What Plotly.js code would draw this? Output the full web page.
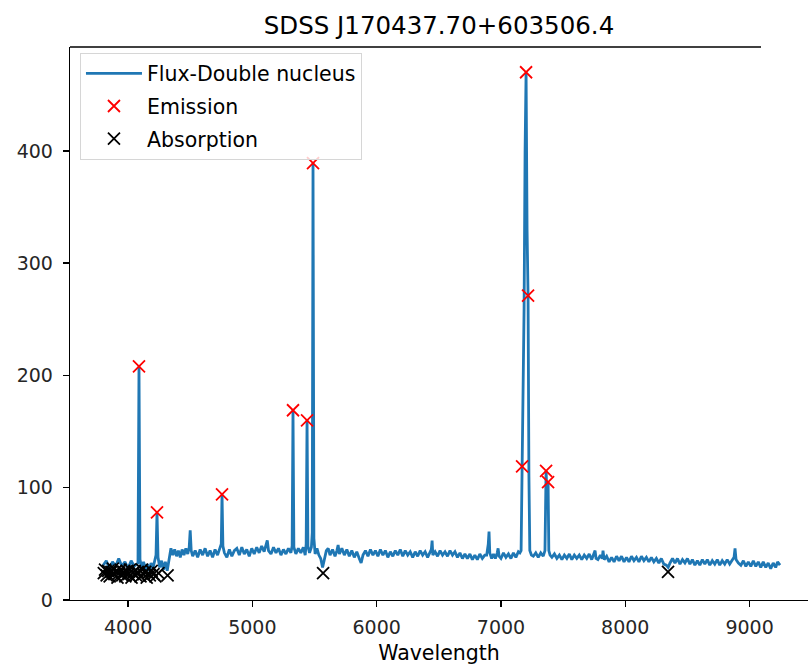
<!DOCTYPE html>
<html>
<head>
<meta charset="utf-8">
<script src="https://cdn.plot.ly/plotly-3.0.1.min.js"></script>
<style>html,body{margin:0;padding:0;background:#fff;}#chart{width:808px;height:665px;}</style>
</head>
<body>
<div id="chart"></div>
<script>
const chartTitle = "SDSS J170437.70+603506.4";
const xLabel = "Wavelength";
const seriesNames = ["Flux-Double nucleus", "Emission", "Absorption"];
const xTicks = [4000, 5000, 6000, 7000, 8000, 9000];
const yTicks = [0, 100, 200, 300, 400];

const wavelength = [
 3800,3825,3850,3875,3900,3925,3950,3975,4000,4025,4050,4075,
 4080,4088,4096,4110,4125,4140,4155,4170,4185,4200,4215,4225,4233,4241,4255,4270,4285,4300,4315,
 4330,4345,4360,4375,4390,4405,4420,4435,4450,4465,4480,4492,4500,4508,4520,4540,4560,4580,4600,
 4620,4640,4660,4680,4700,4720,4740,4750,4756,4763,4775,4795,4815,4835,4855,4875,4895,4915,4935,
 4955,4975,4995,5015,5035,5055,5075,5095,5110,5120,5130,5150,5170,5190,5210,5230,5250,5270,5290,
 5310,5320,5327,5334,5350,5370,5390,5410,5425,5433,5440,5447,5460,5475,5482,5488,5495,5505,5520,
 5535,5550,5565,5580,5595,5610,5625,5645,5665,5680,5690,5700,5720,5740,5760,5780,5800,5820,5840,
 5860,5875,5890,5910,5930,5950,5970,5990,6010,6030,6050,6070,6090,6110,6130,6150,6170,6190,6210,
 6230,6250,6270,6290,6310,6330,6350,6370,6390,6410,6430,6440,6446,6452,6470,6490,6510,6530,6550,
 6570,6590,6610,6630,6650,6670,6690,6710,6730,6750,6770,6790,6810,6830,6850,6870,6885,6898,6904,
 6910,6925,6940,6955,6970,6977,6985,7000,7020,7040,7060,7080,7100,7120,7140,7152,7162,7170,7178,
 7186,7194,7202,7210,7218,7225,7232,7245,7260,7280,7300,7320,7340,7354,7358,7363,7371,7379,7385,
 7395,7410,7430,7450,7470,7490,7510,7530,7550,7570,7590,7610,7630,7650,7670,7690,7710,7730,7745,
 7757,7765,7780,7800,7815,7821,7830,7850,7870,7890,7910,7930,7950,7970,7990,8010,8030,8050,8070,
 8090,8110,8130,8150,8170,8190,8210,8230,8250,8270,8290,8310,8330,8345,8360,8380,8400,8420,8440,
 8460,8480,8500,8520,8540,8560,8580,8600,8620,8640,8660,8680,8700,8720,8740,8760,8780,8800,8820,
 8840,8860,8875,8883,8891,8910,8930,8950,8970,8990,9010,9030,9050,9070,9090,9110,9130,9150,9170,
 9190,9210,9225,9245
];
const flux = [
 31,35,28,34,30,37,30,34,28,35,30,33,
 33,208,36,29,34,27,32,26,33,28,34,40,78,38,29,35,27,34,26,
 37,46,40,45,39,44,38,45,40,46,41,47,62,44,39,44,38,45,40,
 46,39,44,38,45,40,46,50,94,48,42,38,45,39,44,46,40,47,41,
 45,39,46,41,47,42,48,43,49,53,44,41,47,42,46,40,45,41,46,
 42,48,169,47,41,46,42,47,40,50,160,48,42,47,60,389,55,41,46,
 40,37,29,37,44,46,40,45,39,44,49,41,46,40,45,39,44,38,43,
 37,33,40,44,39,45,40,44,39,45,40,44,38,43,39,44,40,45,39,
 44,40,43,38,43,39,44,40,43,38,43,45,53,40,43,39,44,40,43,
 39,44,40,43,38,42,37,41,37,41,36,40,36,41,37,40,40,50,61,
 42,37,41,37,42,46,39,37,42,38,41,37,42,38,43,42,44,119,150,
 260,400,470,330,271,110,44,40,39,42,38,42,39,44,80,115,90,105,44,
 40,38,41,37,40,36,40,37,41,36,40,37,40,36,40,37,41,36,40,
 44,37,36,40,37,44,36,39,34,38,34,39,35,39,34,38,34,39,35,
 38,34,39,35,38,34,38,34,37,33,37,32,31,29,33,37,33,37,32,
 36,33,37,32,36,31,35,31,36,32,36,31,35,32,36,31,35,32,36,
 32,36,38,46,36,33,31,35,30,34,30,35,30,34,29,34,29,33,28,
 33,29,34,31
];

const emissionWl = [4088, 4233, 4756, 5327, 5440, 5488, 7170, 7202, 7218, 7363, 7379];
const emissionFlux = [208, 78, 94, 169, 160, 389, 119, 470, 271, 115, 105];

const absorptionWl = [3805,3815,3828,3840,3852,3866,3878,3890,3903,3915,3928,3940,3953,3965,3978,3990,
 4003,4015,4028,4040,4053,4065,4078,4100,4112,4125,4138,4150,4163,4175,4190,4205,4220,4245,4318,5569,8344];
const absorptionFlux = [24,27,22,26,21,25,28,23,26,20,24,27,22,25,21,26,
 23,27,20,24,26,22,25,21,27,23,25,20,24,22,26,23,21,24,22,24,25];

const font = "DejaVu Sans, Liberation Sans, sans-serif";
const W = 808, H = 665, ml = 70, mr = 0, mt = 47, mb = 65;

const traces = [
  {x: wavelength, y: flux, type: "scatter", mode: "lines", name: seriesNames[0],
   line: {color: "#1f77b4", width: 2.8}, legendgroup: "a"},
  {x: emissionWl, y: emissionFlux, type: "scatter", mode: "markers", name: seriesNames[1],
   marker: {symbol: "x-thin", size: 12, color: "red", line: {color: "red", width: 1.8}}, legendgroup: "b"},
  {x: absorptionWl, y: absorptionFlux, type: "scatter", mode: "markers", name: seriesNames[2],
   marker: {symbol: "x-thin", size: 12, color: "black", line: {color: "black", width: 1.8}}, legendgroup: "c"}
];

const topEnd = (761 - ml) / (W - ml - mr);

const layout = {
  width: W, height: H,
  margin: {l: ml, r: mr, t: mt, b: mb, pad: 0},
  paper_bgcolor: "#fff", plot_bgcolor: "#fff",
  font: {family: font, size: 19, color: "#262626"},
  title: {text: chartTitle, font: {family: font, size: 24.5, color: "#000"},
          x: 0.5, xref: "paper", xanchor: "center", y: (H - 25) / H, yref: "container", yanchor: "middle"},
  showlegend: true,
  legend: {x: 0.0135, y: 0.99, xanchor: "left", yanchor: "top", bgcolor: "rgba(255,255,255,0.8)",
           bordercolor: "#d6d6d6", borderwidth: 1, tracegroupgap: 3,
           font: {family: font, size: 20.5, color: "#000"}, itemwidth: 56},
  xaxis: {range: [3533, 9470], tickvals: xTicks, ticktext: xTicks.map(String), showgrid: false, zeroline: false,
          showline: true, linecolor: "#000", linewidth: 1.3, ticks: "outside", ticklen: 6, tickwidth: 1.3,
          tickcolor: "#000", ticklabelstandoff: 4,
          title: {text: xLabel, font: {family: font, size: 20.5, color: "#000"}, standoff: 8}},
  yaxis: {range: [0, 492.5], tickvals: yTicks, ticktext: yTicks.map(String), showgrid: false, zeroline: false,
          showline: true, linecolor: "#000", linewidth: 1.3, ticks: "outside", ticklen: 6, tickwidth: 1.3,
          tickcolor: "#000", ticklabelstandoff: 6},
  shapes: [{type: "line", xref: "paper", yref: "paper", x0: 0, x1: topEnd, y0: 1, y1: 1,
            line: {color: "#000", width: 1.3}}]
};

Plotly.newPlot("chart", traces, layout, {displayModeBar: false, staticPlot: true});
</script>
</body>
</html>
